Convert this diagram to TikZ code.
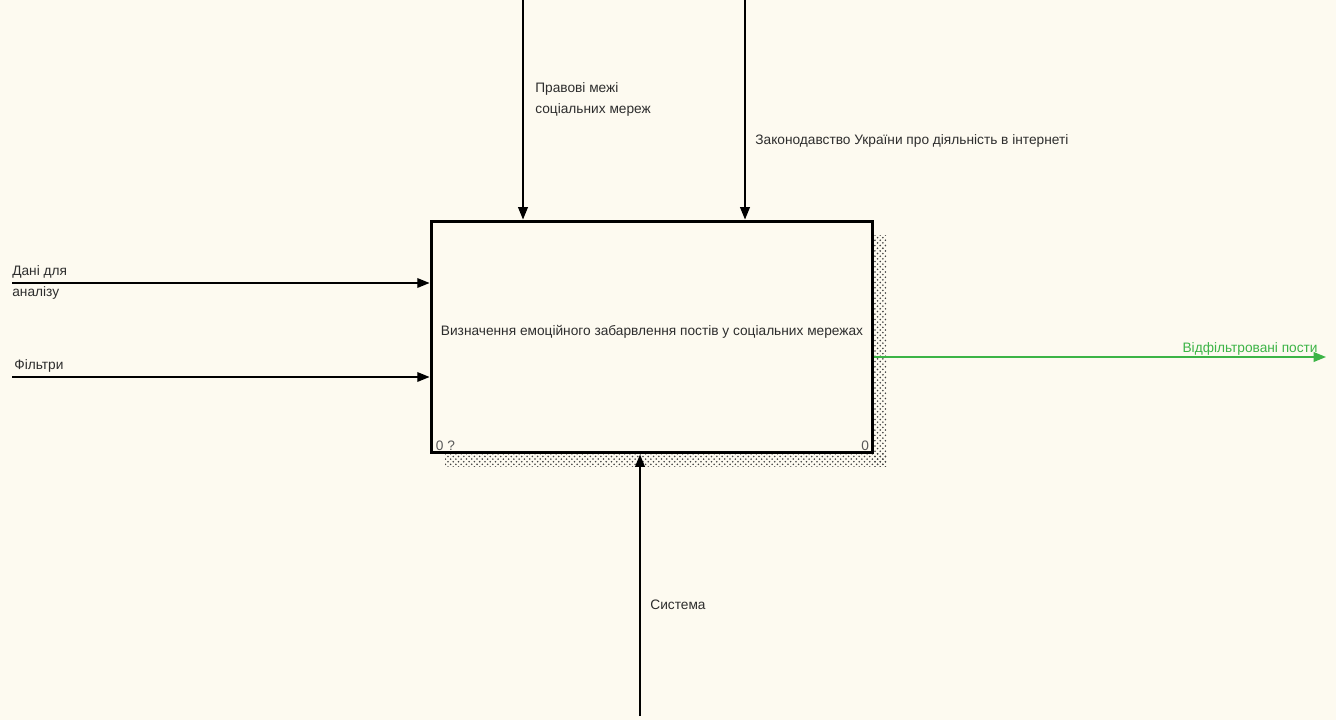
\documentclass[tikz,border=0pt]{standalone}
\usepackage{fontspec}
\setmainfont{Liberation Sans}
\usetikzlibrary{arrows.meta,patterns,positioning}
\definecolor{paper}{RGB}{253,250,240}
\definecolor{outgreen}{RGB}{60,180,70}
\definecolor{ink}{RGB}{45,45,45}

\begin{document}
\begin{tikzpicture}[
    x=0.02cm, y=-0.02cm,
    font=\fontsize{7.8}{12}\selectfont,
    arr/.style={-{Triangle[length=7pt,width=5.5pt]}, line width=0.8pt, color=black},
    outarr/.style={arr, color=outgreen},
    func/.style={draw, line width=1.7pt, fill=paper, text=ink, minimum width=8.84cm, minimum height=4.64cm, inner sep=0pt},
    lbl/.style={text=ink, inner sep=0pt, anchor=west, align=left},
    shade/.style={pattern=crosshatch dots, pattern color=black!75, draw=none}
]

% page
\useasboundingbox (0,0) rectangle (1336,720);
\fill[paper] (0,0) rectangle (1336,720);

% shadow of the activity box
\fill[shade] (445,453) rectangle (886,466);
\fill[shade] (873,235) rectangle (886,466);

% activity box
\node[func] (fn) at (652,337) {\raisebox{8pt}{Визначення емоційного забарвлення постів у соціальних мережах}};
\node[lbl, anchor=south west, text=gray!70!black] (num) at ([shift={(6,-3)}]fn.south west) {0 ?};
\node[lbl, anchor=south east, text=gray!70!black] (nr) at ([shift={(-5,-3)}]fn.south east) {0};

% controls
\coordinate (ctl1) at (523,0);
\coordinate (ctl2) at (745,0);
\draw[arr] (ctl1) -- (ctl1 |- fn.north);
\draw[arr] (ctl2) -- (ctl2 |- fn.north);
\node[lbl] (ctl1txt) at (535,99) {Правові межі\\соціальних мереж};
\node[lbl] (ctl2txt) at (755,141) {Законодавство України про діяльність в інтернеті};

% inputs
\coordinate (in1) at (12,283);
\coordinate (in2) at (12,377);
\draw[arr] (in1) -- (in1 -| fn.west);
\draw[arr] (in2) -- (in2 -| fn.west);
\node[lbl] (in1txt) at (12,282) {Дані для\\аналізу};
\node[lbl] (in2txt) at (14,366) {Фільтри};

% mechanism
\coordinate (mech) at (640,716);
\draw[arr] (mech) -- (mech |- fn.south);
\node[lbl] (mechtxt) at (650,605) {Система};

% output
\coordinate (out) at (1326,357);
\draw[outarr] (out -| fn.east) -- (out);
\node[lbl, anchor=east, text=outgreen] (outtxt) at (1318,349) {Відфільтровані пости};

\end{tikzpicture}
\end{document}
